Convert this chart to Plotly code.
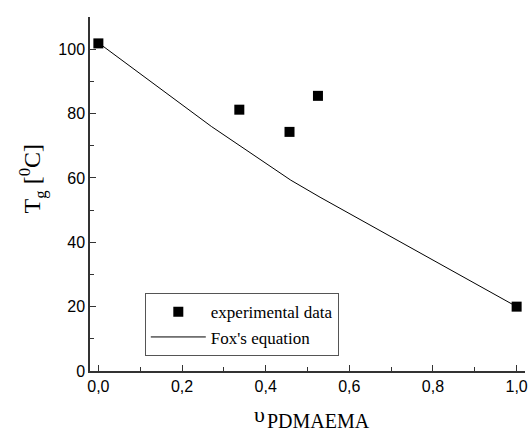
import plotly.graph_objects as go

# experimental data
exp_x = [0.0, 0.337, 0.457, 0.525, 1.0]
exp_y = [101.8, 81.2, 74.3, 85.5, 20.0]

# Fox's equation curve
fox_x = [0.0, 0.27, 0.46, 0.53, 1.0]
fox_y = [102.0, 76.0, 59.3, 54.0, 20.0]

x_ticks = [0.0, 0.2, 0.4, 0.6, 0.8, 1.0]
y_ticks = [0, 20, 40, 60, 80, 100]

SERIF = "Liberation Serif"
SANS = "Liberation Sans"
BLACK = "#000000"

fig = go.Figure()
fig.add_trace(go.Scatter(
    x=exp_x, y=exp_y, mode="markers", name="experimental data",
    marker=dict(symbol="square", size=10, color="black"),
))
fig.add_trace(go.Scatter(
    x=fox_x, y=fox_y, mode="lines", name="Fox's equation",
    line=dict(color="black", width=1),
))

axis_common = dict(
    showline=True, linecolor="#333333", linewidth=1.5, mirror=False,
    showgrid=False, zeroline=False, ticks="inside", ticklen=6,
    tickwidth=1, tickcolor="#333333",
    tickfont=dict(family=SANS, size=16, color=BLACK),
)

fig.update_layout(
    width=532, height=433,
    margin=dict(l=90, r=4, t=17, b=62),
    plot_bgcolor="white", paper_bgcolor="white",
    separators=",.",
    showlegend=True,
    font=dict(family=SANS, color=BLACK),
    legend=dict(
        x=0.126, y=0.2195, xanchor="left", yanchor="top",
        bordercolor="#555555", borderwidth=1, bgcolor="white",
        font=dict(family=SERIF, size=17, color=BLACK),
        tracegroupgap=0, itemwidth=55,
    ),
    xaxis=dict(
        range=[-0.02, 1.02], tickvals=x_ticks, tickformat=".1f",
        minor=dict(ticks="inside", ticklen=4, dtick=0.1, tickcolor="#333333"),
        **axis_common,
    ),
    yaxis=dict(
        range=[0, 110], tickvals=y_ticks,
        minor=dict(ticks="inside", ticklen=4, dtick=10, tickcolor="#333333"),
        **axis_common,
    ),
    annotations=[
        dict(text="T<sub>g</sub> [<sup>0</sup>C]", textangle=-90,
             xref="paper", yref="paper", x=-0.1324, y=0.5424,
             xanchor="center", yanchor="middle", showarrow=False,
             font=dict(family=SERIF, size=24, color=BLACK)),
        dict(text="υ", xref="paper", yref="paper", x=0.389, y=-0.1223,
             xanchor="center", yanchor="middle", showarrow=False,
             font=dict(family=SERIF, size=22, color=BLACK)),
        dict(text="PDMAEMA", xref="paper", yref="paper", x=0.4018, y=-0.142,
             xanchor="left", yanchor="middle", showarrow=False,
             font=dict(family=SERIF, size=20, color=BLACK)),
    ],
)

fig.write_html("out.html")
